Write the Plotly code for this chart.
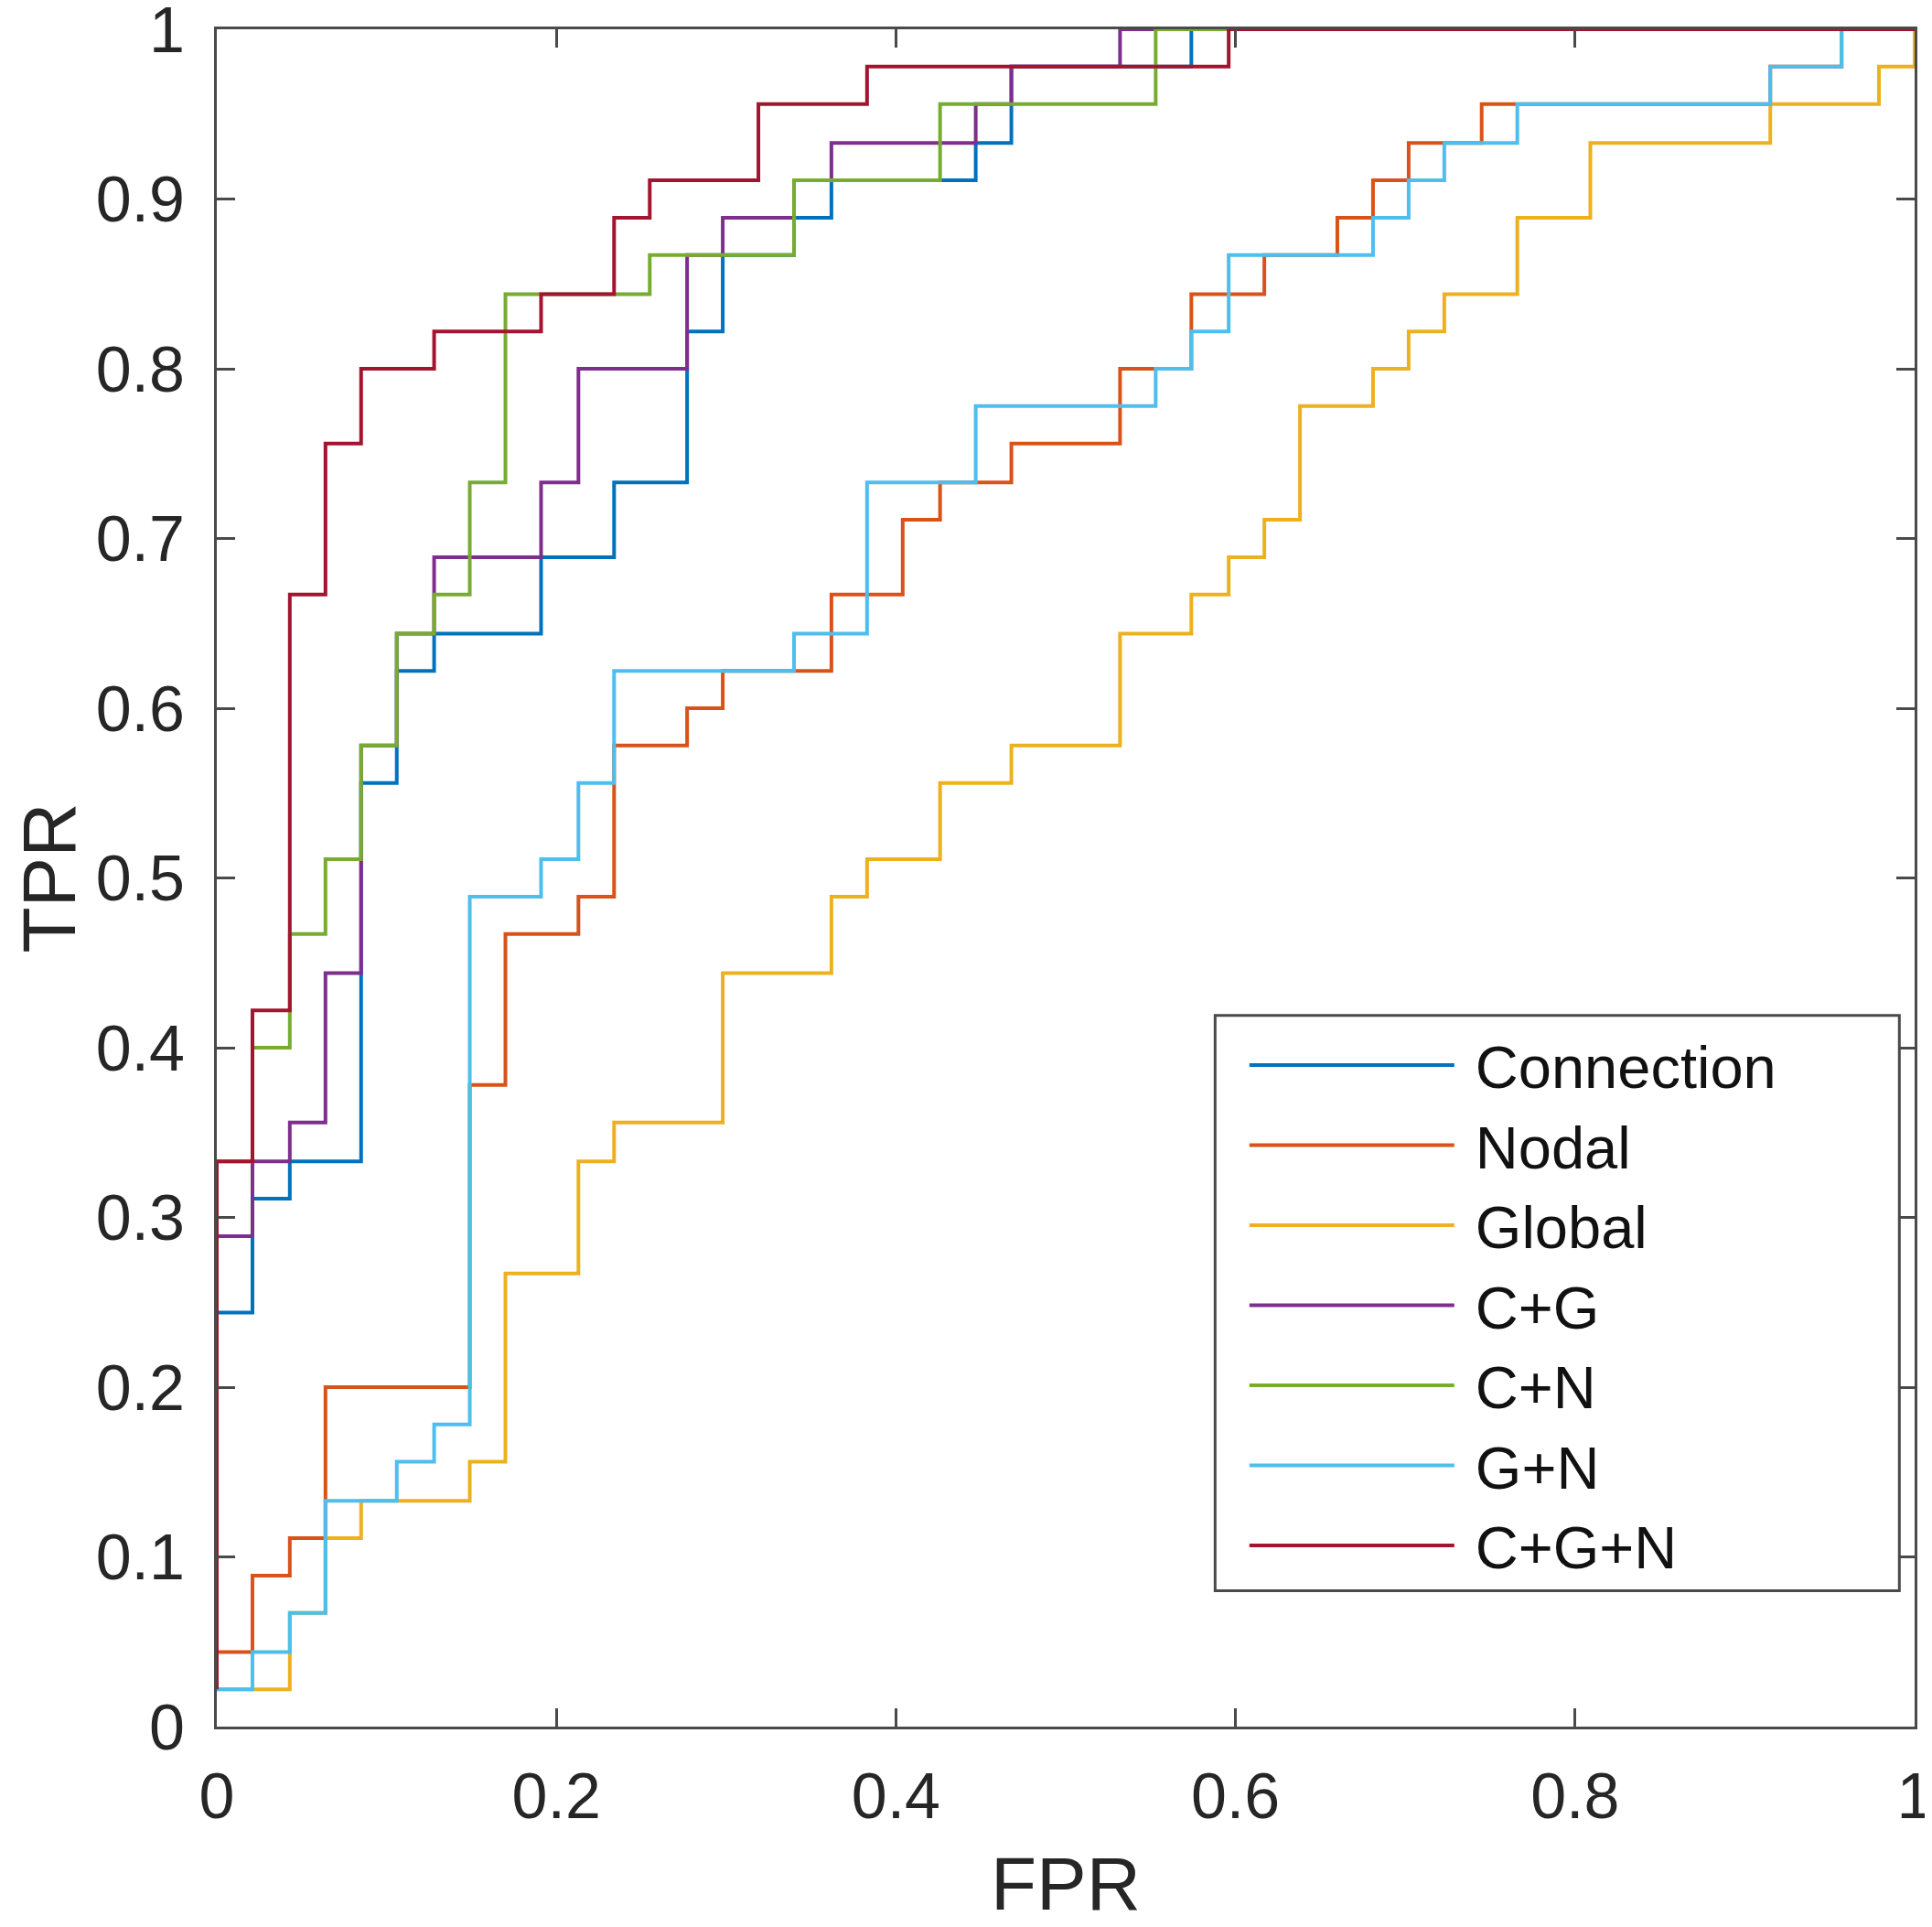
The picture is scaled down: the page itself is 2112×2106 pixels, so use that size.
import plotly.graph_objects as go

# ROC corner points (top of each vertical step)
conn_fpr = [0, 0.021, 0.043, 0.085, 0.106, 0.128, 0.191, 0.234, 0.277, 0.298, 0.340, 0.362, 0.447, 0.468, 0.574, 1]
conn_tpr = [0.244, 0.311, 0.333, 0.556, 0.622, 0.644, 0.689, 0.733, 0.822, 0.867, 0.889, 0.911, 0.933, 0.978, 1, 1]

nodal_fpr = [0, 0.021, 0.043, 0.064, 0.149, 0.170, 0.213, 0.234, 0.277, 0.298, 0.362, 0.404, 0.426, 0.468,
             0.532, 0.574, 0.617, 0.660, 0.681, 0.702, 0.745, 0.915, 0.957, 1]
nodal_tpr = [0.044, 0.089, 0.111, 0.200, 0.378, 0.467, 0.489, 0.578, 0.600, 0.622, 0.667, 0.711, 0.733, 0.756,
             0.800, 0.844, 0.867, 0.889, 0.911, 0.933, 0.956, 0.978, 1, 1]

global_fpr = [0, 0.043, 0.064, 0.085, 0.149, 0.170, 0.213, 0.234, 0.298, 0.362, 0.383, 0.426, 0.468, 0.532,
              0.574, 0.596, 0.617, 0.638, 0.681, 0.702, 0.723, 0.766, 0.809, 0.915, 0.979, 1]
global_tpr = [0.022, 0.067, 0.111, 0.133, 0.156, 0.267, 0.333, 0.356, 0.444, 0.489, 0.511, 0.556, 0.578, 0.644,
              0.667, 0.689, 0.711, 0.778, 0.800, 0.822, 0.844, 0.889, 0.933, 0.956, 0.978, 1]

cg_fpr = [0, 0.021, 0.043, 0.064, 0.085, 0.106, 0.128, 0.191, 0.213, 0.277, 0.298, 0.340, 0.362, 0.447, 0.468, 0.532, 1]
cg_tpr = [0.289, 0.333, 0.356, 0.444, 0.578, 0.644, 0.689, 0.733, 0.800, 0.867, 0.889, 0.911, 0.933, 0.956, 0.978, 1, 1]

cn_fpr = [0, 0.021, 0.043, 0.064, 0.085, 0.106, 0.128, 0.149, 0.170, 0.255, 0.340, 0.426, 0.553, 1]
cn_tpr = [0.333, 0.400, 0.467, 0.511, 0.578, 0.644, 0.667, 0.733, 0.844, 0.867, 0.911, 0.956, 1, 1]

gn_fpr = [0, 0.021, 0.043, 0.064, 0.106, 0.128, 0.149, 0.191, 0.213, 0.234, 0.340, 0.383, 0.447, 0.553,
          0.574, 0.596, 0.681, 0.702, 0.723, 0.766, 0.915, 0.957, 1]
gn_tpr = [0.022, 0.044, 0.067, 0.133, 0.156, 0.178, 0.489, 0.511, 0.556, 0.622, 0.644, 0.733, 0.778, 0.800,
          0.822, 0.867, 0.889, 0.911, 0.933, 0.956, 0.978, 1, 1]

cgn_fpr = [0, 0, 0.021, 0.043, 0.064, 0.085, 0.128, 0.191, 0.234, 0.255, 0.319, 0.383, 0.596, 1]
cgn_tpr = [0.022, 0.333, 0.422, 0.667, 0.756, 0.800, 0.822, 0.844, 0.889, 0.911, 0.956, 0.978, 1, 1]

names = ["Connection", "Nodal", "Global", "C+G", "C+N", "G+N", "C+G+N"]
colors = ["#0072BD", "#D95319", "#EDB120", "#7E2F8E", "#77AC30", "#4DBEEE", "#A2142F"]
curves = [(conn_fpr, conn_tpr), (nodal_fpr, nodal_tpr), (global_fpr, global_tpr), (cg_fpr, cg_tpr),
          (cn_fpr, cn_tpr), (gn_fpr, gn_tpr), (cgn_fpr, cgn_tpr)]

x_ticks = [0, 0.2, 0.4, 0.6, 0.8, 1]
x_ticktext = ["0", "0.2", "0.4", "0.6", "0.8", "1"]
y_ticks = [0, 0.1, 0.2, 0.3, 0.4, 0.5, 0.6, 0.7, 0.8, 0.9, 1]
y_ticktext = ["0", "0.1", "0.2", "0.3", "0.4", "0.5", "0.6", "0.7", "0.8", "0.9", "1"]

font_family = "Liberation Sans, Arial, Helvetica, sans-serif"
axis_col = "#4a4a4a"

fig = go.Figure()
for (fx, ty), nm, col in zip(curves, names, colors):
    fig.add_trace(go.Scatter(x=fx, y=ty, mode="lines", name=" " + nm,
                             line=dict(color=col, width=4, shape="hv")))

axis_common = dict(range=[0, 1.00001], showgrid=False, zeroline=False, showline=True, linewidth=3,
                   linecolor=axis_col, mirror="ticks", ticks="inside", ticklen=20, tickwidth=3,
                   tickcolor=axis_col, ticklabeloverflow="allow", automargin=False,
                   tickfont=dict(size=70, color="#262626", family=font_family))

fig.update_xaxes(**axis_common, tickvals=x_ticks, ticktext=x_ticktext, ticklabelstandoff=13,
                 title=dict(text="FPR", font=dict(size=82, color="#262626", family=font_family), standoff=29))
fig.update_yaxes(**axis_common, tickvals=y_ticks, ticktext=y_ticktext, ticklabelstandoff=18,
                 title=dict(text="TPR", font=dict(size=82, color="#262626", family=font_family), standoff=37))

# legend box
fig.add_shape(type="rect", xref="paper", yref="paper", x0=0.588, x1=0.991, y0=0.080, y1=0.419,
              line=dict(color=axis_col, width=3), fillcolor="white", layer="above")

# the page body adds an 8 px offset, margins compensate for it
fig.update_layout(
    width=2112, height=2106,
    margin=dict(l=229, r=27, t=24, b=227),
    paper_bgcolor="white", plot_bgcolor="white",
    font=dict(family=font_family, color="#262626"),
    legend=dict(x=0.6055, y=0.416, xanchor="left", yanchor="top", bgcolor="rgba(0,0,0,0)",
                borderwidth=0, font=dict(size=65, color="#111111", family=font_family),
                itemwidth=224, tracegroupgap=0),
)

fig.write_html("out.html")
